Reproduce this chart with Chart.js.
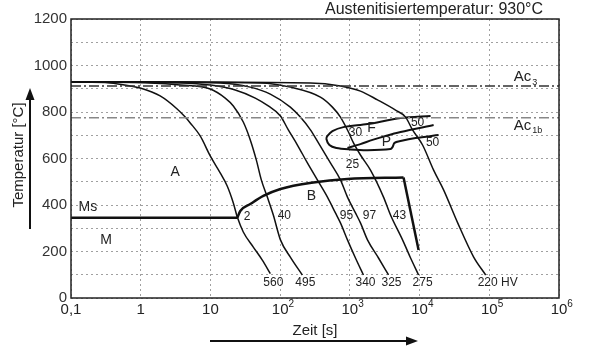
<!DOCTYPE html>
<html>
<head>
<meta charset="utf-8">
<script src="https://cdn.jsdelivr.net/npm/chart.js@4.4.1/dist/chart.umd.min.js"></script>
<style>
  html, body { margin: 0; padding: 0; background: #fff; }
</style>
</head>
<body>
<canvas id="zta" width="605" height="355"></canvas>
<script>
// cooling curves: time [s] and temperature [°C]
var c560t = [0.1, 0.363, 0.705, 0.98, 1.9, 3.33, 4.35, 5.13, 7.13, 9.93, 13.8, 17.4, 21.3, 24.3, 29.6, 41.2, 55.5, 72.3];
var c560T = [930, 925, 912, 903, 869, 813, 778, 753, 697, 611, 538, 482, 409, 348, 284, 219, 163, 105];

var c495t = [0.1, 1.36, 3.68, 9.93, 16.3, 21.3, 29.6, 37.3, 45.5, 53.7, 65.5, 79.8, 101, 140, 208];
var c495T = [930, 925, 916, 899, 860, 826, 757, 680, 594, 508, 434, 357, 250, 176, 99];

var c340t = [0.1, 3.68, 9.93, 22.7, 44.0, 67.6, 101, 131, 177, 246, 342, 477, 621, 733, 924, 1203, 1567];
var c340T = [930, 925, 916, 895, 860, 826, 783, 723, 658, 581, 508, 434, 366, 323, 250, 172, 99];

var c325t = [0.1, 13.8, 37.3, 72.3, 140, 195, 272, 354, 526, 733, 924, 1203, 1419, 1790, 2576, 3589];
var c325T = [930, 925, 907, 877, 821, 778, 723, 667, 581, 508, 434, 366, 323, 250, 172, 99];

var c275t = [0.1, 52, 140, 378, 562, 733, 955, 1127, 1419, 1977, 3040, 3830, 5700, 7430, 9680];
var c275T = [930, 925, 907, 864, 821, 778, 714, 667, 615, 550, 434, 357, 250, 172, 99];

var c220t = [0.1, 272, 733, 1419, 2494, 4520, 6300, 7930, 11040, 15900, 22100, 35200, 59700, 88800];
var c220T = [930, 925, 912, 890, 852, 808, 778, 723, 658, 550, 465, 323, 176, 99];

// martensite start and bainite region
var msT = 345;
var msEnd = 24.3;
var bainT = [24.3, 26.8, 37.3, 57.4, 101, 300, 924, 5890];
var bainV = [345, 374, 404, 439, 469, 497, 512, 518];
var bainEndT = [5890, 9680];
var bainEndV = [518, 206];

// ferrite / pearlite region
var ferT = [14390, 5333, 1790, 809, 562, 477, 461, 509, 641, 1021, 1790, 3830, 4090, 4375, 5333, 8770, 18750];
var ferV = [783, 774, 748, 735, 718, 697, 684, 658, 645, 639, 636, 641, 649, 667, 675, 688, 701];
var perT = [924, 1419, 2113, 3246, 5333, 15900];
var perV = [645, 662, 680, 697, 714, 744];

var ac3 = 912;
var ac1b = 775;

// text inside the plot
var zoneText = ['A', 'B', 'M', 'Ms', 'F', 'P'];
var zoneTime = [3.12, 281, 0.318, 0.175, 2042, 3357];
var zoneTemp = [542, 439, 249, 391, 731, 671];

var pctText = ['2', '40', '95', '97', '43', '30', '25', '50', '50'];
var pctTime = [33.5, 115, 894, 1914, 5160, 1203, 1090, 9360, 15380];
var pctTemp = [350, 353, 353, 353, 353, 710, 572, 753, 667];

var hvText = ['560', '495', '340', '325', '275', '220 HV'];
var hvTime = [79.8, 230, 1675, 3960, 11040, 132000];
var hvTemp = 64;

var acSub = ['3', '1b'];
var acTemp = [950, 740];
var acTime = 224000;

var xTickVals = [0.1, 1, 10, 100, 1e3, 1e4, 1e5, 1e6];
var xTickBase = ['0,1', '1', '10', '10', '10', '10', '10', '10'];
var xTickExp = ['', '', '', '2', '3', '4', '5', '6'];

var FONT = '"Liberation Sans", Arial, sans-serif';

function pts(ts, vs) {
  return ts.map(function(t, i) { return { x: t, y: vs[i] }; });
}

function line(data, width, color, smooth, dash) {
  var ds = {
    data: data, showLine: true, pointRadius: 0, borderColor: color,
    borderWidth: width, borderDash: dash || [], fill: false, tension: 0
  };
  if (smooth === 'mono') ds.cubicInterpolationMode = 'monotone';
  else if (smooth) ds.tension = smooth;
  return ds;
}

var sets = [
  line(pts([0.1, 1e6], [ac3, ac3]), 1.5, '#333', 0, [10, 3, 2, 3]),
  line(pts([0.1, 1e6], [ac1b, ac1b]), 1.5, '#888', 0, [10, 3, 2, 3]),
  line(pts(c560t, c560T), 1.5, '#111', 'mono'),
  line(pts(c495t, c495T), 1.5, '#111', 'mono'),
  line(pts(c340t, c340T), 1.5, '#111', 'mono'),
  line(pts(c325t, c325T), 1.5, '#111', 'mono'),
  line(pts(c275t, c275T), 1.5, '#111', 'mono'),
  line(pts(c220t, c220T), 1.5, '#111', 'mono'),
  line(pts([0.1, msEnd], [msT, msT]), 2.5, '#111', 0),
  line(pts(bainT, bainV), 2.5, '#111', 'mono'),
  line(pts(bainEndT, bainEndV), 2.5, '#111', 0),
  line(pts(ferT, ferV), 2, '#111', 0.3),
  line(pts(perT, perV), 2, '#111', 0.3)
];

function arrow(ctx, x1, y1, x2, y2) {
  var ang = Math.atan2(y2 - y1, x2 - x1), len = 12, w = 4.5;
  ctx.beginPath();
  ctx.moveTo(x1, y1);
  ctx.lineTo(x2 - Math.cos(ang) * len, y2 - Math.sin(ang) * len);
  ctx.stroke();
  ctx.beginPath();
  ctx.moveTo(x2, y2);
  ctx.lineTo(x2 - Math.cos(ang) * len - Math.sin(ang) * w, y2 - Math.sin(ang) * len + Math.cos(ang) * w);
  ctx.lineTo(x2 - Math.cos(ang) * len + Math.sin(ang) * w, y2 - Math.sin(ang) * len - Math.cos(ang) * w);
  ctx.closePath();
  ctx.fill();
}

var extras = {
  id: 'extras',
  afterDraw: function(chart) {
    var ctx = chart.ctx, xs = chart.scales.x, ys = chart.scales.y, a = chart.chartArea;
    var i;
    ctx.save();
    ctx.strokeStyle = '#222';
    ctx.lineWidth = 1.5;
    ctx.strokeRect(a.left, a.top, a.right - a.left, a.bottom - a.top);

    ctx.fillStyle = '#222';
    ctx.textAlign = 'center';
    ctx.textBaseline = 'middle';

    ctx.font = '14px ' + FONT;
    for (i = 0; i < zoneText.length; i++) {
      ctx.fillText(zoneText[i], xs.getPixelForValue(zoneTime[i]), ys.getPixelForValue(zoneTemp[i]));
    }
    ctx.font = '12px ' + FONT;
    for (i = 0; i < pctText.length; i++) {
      ctx.fillText(pctText[i], xs.getPixelForValue(pctTime[i]), ys.getPixelForValue(pctTemp[i]));
    }
    for (i = 0; i < hvText.length; i++) {
      ctx.fillText(hvText[i], xs.getPixelForValue(hvTime[i]), ys.getPixelForValue(hvTemp));
    }

    // Ac3 / Ac1b
    ctx.textAlign = 'left';
    for (i = 0; i < acSub.length; i++) {
      var ax = xs.getPixelForValue(acTime), ay = ys.getPixelForValue(acTemp[i]);
      ctx.font = '15px ' + FONT;
      ctx.fillText('Ac', ax, ay);
      var w = ctx.measureText('Ac').width;
      ctx.font = '9px ' + FONT;
      ctx.fillText(acSub[i], ax + w + 1, ay + 5);
    }

    // x tick labels with exponents
    var ty = a.bottom + 12;
    for (i = 0; i < xTickVals.length; i++) {
      var px = xs.getPixelForValue(xTickVals[i]);
      ctx.font = '15px ' + FONT;
      ctx.textAlign = 'center';
      ctx.fillText(xTickBase[i], px, ty);
      if (xTickExp[i]) {
        var bw = ctx.measureText(xTickBase[i]).width;
        ctx.font = '10px ' + FONT;
        ctx.textAlign = 'left';
        ctx.fillText(xTickExp[i], px + bw / 2, ty - 6);
      }
    }

    // title
    ctx.font = '16px ' + FONT;
    ctx.textAlign = 'left';
    ctx.fillText('Austenitisiertemperatur: 930°C', 325, 10);

    // axis titles and arrows
    ctx.font = '15px ' + FONT;
    ctx.textAlign = 'center';
    ctx.fillText('Zeit [s]', 315, 331);
    ctx.save();
    ctx.translate(19, 155);
    ctx.rotate(-Math.PI / 2);
    ctx.fillText('Temperatur [°C]', 0, 0);
    ctx.restore();

    ctx.strokeStyle = '#111';
    ctx.fillStyle = '#111';
    ctx.lineWidth = 2;
    arrow(ctx, 30, 229, 30, 88);
    arrow(ctx, 210, 341, 418, 341);
    ctx.restore();
  }
};

new Chart(document.getElementById('zta'), {
  type: 'scatter',
  data: { datasets: sets },
  options: {
    responsive: false,
    animation: false,
    layout: { padding: { top: 19, right: 46, left: 0, bottom: 0 } },
    plugins: { legend: { display: false }, tooltip: { enabled: false }, title: { display: false } },
    scales: {
      x: {
        type: 'logarithmic', min: 0.1, max: 1e6,
        afterBuildTicks: function(s) { s.ticks = xTickVals.map(function(v) { return { value: v }; }); },
        ticks: { display: false },
        grid: { color: '#a0a0a0', lineWidth: 1, drawTicks: false },
        border: { display: false, dash: [2, 3] },
        afterFit: function(s) { s.height = 57; }
      },
      y: {
        min: 0, max: 1200,
        ticks: {
          stepSize: 100, padding: 4, color: '#333',
          font: { family: FONT, size: 15 },
          callback: function(v) { return v % 200 === 0 ? String(v) : ''; }
        },
        grid: { color: '#a0a0a0', lineWidth: 1, drawTicks: false },
        border: { display: false, dash: [2, 3] },
        afterFit: function(s) { s.width = 71; }
      }
    }
  },
  plugins: [extras]
});
</script>
</body>
</html>
